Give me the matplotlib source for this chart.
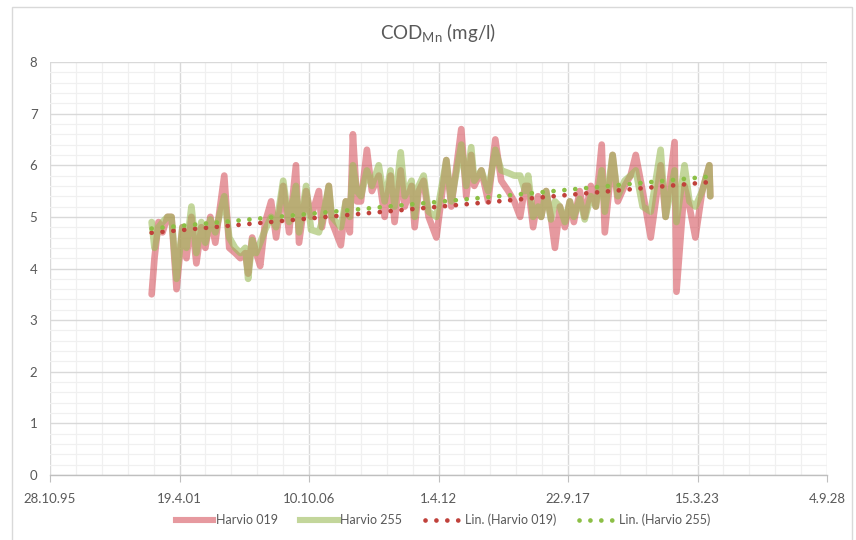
import datetime as dt
import numpy as np
import matplotlib
matplotlib.use("Agg")
import matplotlib.pyplot as plt
import matplotlib.dates as mdates
from matplotlib.lines import Line2D
from matplotlib.patches import Rectangle
from matplotlib.ticker import MultipleLocator, FixedLocator, FuncFormatter

plt.rcParams['font.family'] = ['Lato', 'DejaVu Sans']
plt.rcParams['mathtext.fontset'] = 'custom'
plt.rcParams['mathtext.rm'] = 'Lato'

# sampling dates as decimal years
years = [2000.12, 2000.24, 2000.41, 2000.58, 2000.79, 2000.96, 2001.17, 2001.42,
         2001.59, 2001.80, 2002.01, 2002.22, 2002.39, 2002.60, 2002.81, 2003.19,
         2003.40, 2003.65, 2003.87, 2004.08, 2004.20, 2004.37, 2004.54, 2004.71,
         2004.92, 2005.17, 2005.38, 2005.68, 2005.93, 2006.22, 2006.35, 2006.65,
         2006.86, 2007.19, 2007.32, 2007.61, 2007.74, 2008.12, 2008.33, 2008.50,
         2008.63, 2008.80, 2008.97, 2009.22, 2009.43, 2009.72, 2009.97, 2010.22,
         2010.39, 2010.65, 2010.82, 2011.11, 2011.24, 2011.41, 2011.62, 2011.83,
         2012.16, 2012.58, 2012.79, 2013.21, 2013.42, 2013.63, 2013.76, 2014.06,
         2014.35, 2014.65, 2014.90, 2015.20, 2015.45, 2015.70, 2015.91, 2016.04,
         2016.25, 2016.46, 2016.59, 2016.80, 2017.00, 2017.17, 2017.38, 2017.59,
         2017.80, 2017.97, 2018.22, 2018.43, 2018.69, 2018.90, 2019.15, 2019.28,
         2019.61, 2019.83, 2020.12, 2020.37, 2020.59, 2020.88, 2021.22, 2021.64,
         2021.85, 2022.23, 2022.31, 2022.65, 2022.86, 2023.11, 2023.40, 2023.70,
         2023.74]

harvio_019 = [3.5, 4.2, 4.9, 4.7, 5.0, 5.0, 3.6, 4.8,
              4.2, 5.0, 4.1, 4.8, 4.4, 5.0, 4.5, 5.8,
              4.4, 4.3, 4.2, 4.3, 3.9, 4.6, 4.3, 4.05,
              4.9, 5.3, 4.6, 5.6, 4.7, 6.0, 4.5, 5.5,
              5.0, 5.5, 4.8, 5.6, 4.9, 4.45, 5.3, 4.7,
              6.6, 5.3, 5.3, 6.3, 5.5, 5.8, 5.0, 5.8,
              4.9, 5.9, 5.2, 5.6, 4.8, 5.5, 5.7, 5.0,
              4.6, 6.1, 5.2, 6.7, 5.4, 6.2, 5.6, 5.9,
              5.3, 6.5, 5.7, 5.5, 5.3, 5.0, 5.6, 5.6,
              4.8, 5.4, 5.0, 5.5, 5.0, 4.4, 5.2, 4.8,
              5.3, 4.9, 5.5, 5.0, 5.6, 5.2, 6.4, 4.7,
              6.2, 5.3, 5.6, 5.8, 6.2, 5.5, 4.6, 6.0,
              5.0, 6.45, 3.55, 5.6, 5.2, 4.6, 5.5, 6.0,
              5.4]

harvio_255 = [4.9, 4.4, 4.8, 4.9, 5.0, 5.0, 3.8, 4.8,
              4.4, 5.2, 4.3, 4.9, 4.5, 4.95, 4.7, 5.4,
              4.6, 4.4, 4.3, 4.4, 3.8, 4.55, 4.3, 4.5,
              4.75, 5.0, 4.8, 5.7, 4.9, 5.6, 4.7, 5.6,
              4.75, 4.7, 4.9, 5.6, 5.0, 4.8, 5.3, 5.0,
              6.0, 5.5, 5.4, 5.9, 5.6, 6.0, 5.3, 5.9,
              5.2, 6.25, 5.4, 5.7, 5.0, 5.6, 5.8, 5.1,
              5.0, 6.1, 5.3, 6.4, 5.6, 6.35, 5.7, 5.9,
              5.5, 6.3, 5.9, 5.85, 5.8, 5.8, 5.5, 5.8,
              5.0, 5.2, 5.0, 5.5, 4.95, 5.3, 5.2, 4.9,
              5.3, 5.0, 5.35, 4.95, 5.4, 5.2, 5.9, 5.1,
              6.2, 5.4, 5.7, 5.8, 5.9, 5.2, 5.1, 6.3,
              5.0, 5.9, 4.9, 6.0, 5.3, 5.2, 5.5, 6.0,
              5.4]

series_names = ['Harvio 019', 'Harvio 255']


def year_to_num(y):
    whole = int(y)
    return mdates.date2num(dt.datetime(whole, 1, 1)) + (y - whole) * 365.25


x = np.array([year_to_num(y) for y in years])
y1 = np.array(harvio_019)
y2 = np.array(harvio_255)

red_line = (210/255, 70/255, 80/255)
green_line = (155/255, 187/255, 89/255)
red_dot = '#C0413B'
green_dot = '#8CBF46'
text_col = '#595959'

fig = plt.figure(figsize=(8.56, 5.4), dpi=100)
ax = fig.add_axes([50/856, 65/540, 777/856, 413/540])

ax.plot(x, y1, color=red_line, alpha=0.55, lw=4.8,
        solid_joinstyle='round', solid_capstyle='round', zorder=3)
ax.plot(x, y2, color=green_line, alpha=0.6, lw=4.8,
        solid_joinstyle='round', solid_capstyle='round', zorder=4)

# linear trend lines over the sampled range
xs = np.array([x.min(), x.max()])
for yy, c in ((y1, red_dot), (y2, green_dot)):
    k, b = np.polyfit(x, yy, 1)
    ax.plot(xs, k * xs + b, color=c, lw=3.4, linestyle=(0, (0.01, 2.3)),
            dash_capstyle='round', zorder=5)

# axis range 28.10.95 .. 4.9.28, major step 2000 days
x0 = mdates.date2num(dt.datetime(1995, 10, 28))
ax.set_xlim(x0, x0 + 12000)
ax.set_ylim(0, 8)
ax.xaxis.set_major_locator(FixedLocator(x0 + np.arange(0, 12001, 2000)))
ax.xaxis.set_minor_locator(FixedLocator(x0 + np.arange(0, 12001, 400)))
ax.yaxis.set_major_locator(MultipleLocator(1))
ax.yaxis.set_minor_locator(MultipleLocator(0.2))


def date_label(v, pos):
    d = mdates.num2date(v)
    return f"{d.day}.{d.month}.{d.strftime('%y')}"


ax.xaxis.set_major_formatter(FuncFormatter(date_label))

ax.grid(which='major', color='#D9D9D9', lw=1.0, zorder=1)
ax.grid(which='minor', color='#F0F0F0', lw=0.9, zorder=0)
ax.set_axisbelow(True)
for s in ('top', 'right', 'left'):
    ax.spines[s].set_visible(False)
ax.spines['bottom'].set_color('#BFBFBF')
ax.spines['bottom'].set_linewidth(1.0)
ax.tick_params(axis='x', which='major', length=5, color='#BFBFBF',
               labelcolor=text_col, labelsize=9.5, pad=8)
ax.tick_params(axis='x', which='minor', length=0)
ax.tick_params(axis='y', which='both', length=0, labelcolor=text_col,
               labelsize=9.5, pad=9)

fig.text(438/856, 1 - 33/540, r'COD$_{\mathrm{Mn}}$ (mg/l)', ha='center',
         va='center', fontsize=13.5, color=text_col)

handles = [
    Line2D([], [], color=red_line, alpha=0.55, lw=4.4),
    Line2D([], [], color=green_line, alpha=0.6, lw=4.4),
    Line2D([], [], color=red_dot, lw=3.4, linestyle=(0, (0.01, 2.3)),
           dash_capstyle='round'),
    Line2D([], [], color=green_dot, lw=3.4, linestyle=(0, (0.01, 2.3)),
           dash_capstyle='round'),
]
labels = series_names + [f'Lin. ({n})' for n in series_names]
leg = fig.legend(handles, labels, loc='center', bbox_to_anchor=(443/856, 1 - 520/540),
                 ncol=4, frameon=False, fontsize=9, handlelength=3.0,
                 handletextpad=0.2, columnspacing=1.8)
for t in leg.get_texts():
    t.set_color(text_col)

fig.patches.append(Rectangle((12/856, -0.05), 840/856, 1 - 7/540 + 0.05,
                             transform=fig.transFigure, fill=False,
                             edgecolor='#D9D9D9', lw=1.0))

fig.savefig('out.png', dpi=100)
